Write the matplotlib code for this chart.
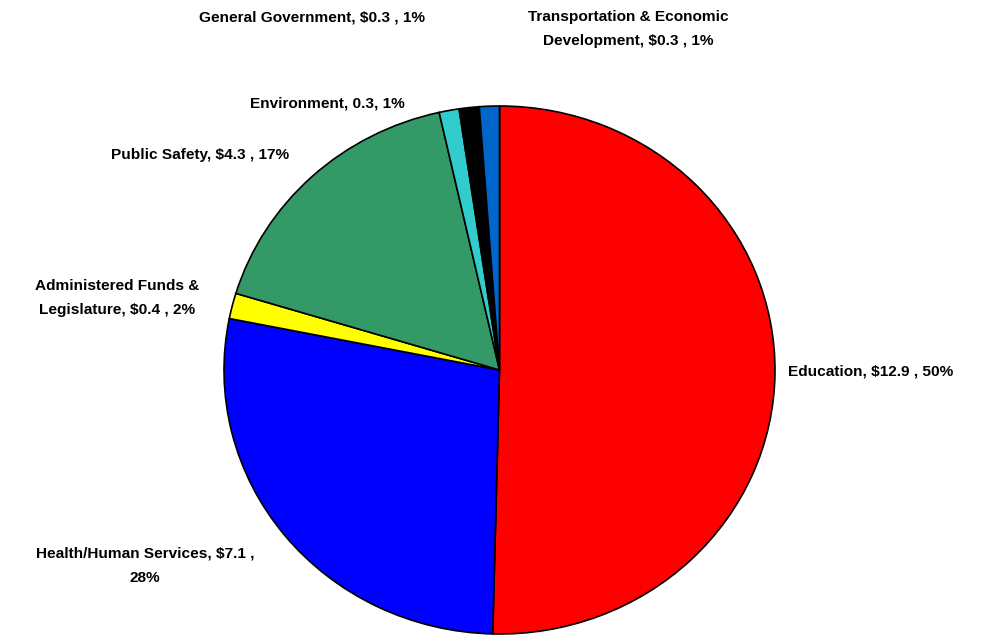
import matplotlib.pyplot as plt

labels = ['Education', 'Health/Human Services', 'Administered Funds &\nLegislature',
          'Public Safety', 'Environment', 'General Government',
          'Transportation & Economic\nDevelopment']
values = [12.9, 7.1, 0.4, 4.3, 0.3, 0.3, 0.3]
label_texts = ['Education, $12.9 , 50%', 'Health/Human Services, $7.1 ,\n28%',
               'Administered Funds &\nLegislature, $0.4 , 2%', 'Public Safety, $4.3 , 17%',
               'Environment, 0.3, 1%', 'General Government, $0.3 , 1%',
               'Transportation & Economic\nDevelopment, $0.3 , 1%']
colors = ['#FF0000', '#0000FF', '#FFFF00', '#339966', '#33CCCC', '#000000', '#0066CC']
# label centres in pixels (x, y from top)
label_pos = [(871, 371), (145, 566), (117, 298), (200, 155), (327, 103), (312, 17), (628, 29)]

W, H = 986, 635
fig = plt.figure(figsize=(W / 100, H / 100), dpi=100)
ax = fig.add_axes([0, 0, 1, 1])
ax.pie(values, colors=colors, startangle=90, counterclock=False, radius=1,
       wedgeprops=dict(edgecolor='black', linewidth=1.2))
ax.set_aspect('auto')
# pie centre at (499.5, 370) px, radii 275.5 px horiz, 264 px vert
cx, cy, rx, ry = 499.5, 370, 275.5, 264
ax.set_xlim(-cx / rx, (W - cx) / rx)
ax.set_ylim(-(H - cy) / ry, cy / ry)
ax.axis('off')

for txt, (px, py) in zip(label_texts, label_pos):
    fig.text(px / W, 1 - py / H, txt, ha='center', va='center', fontsize=11.1,
             fontweight='bold', family='Liberation Sans', linespacing=1.95)

fig.savefig('out.png', dpi=100)
